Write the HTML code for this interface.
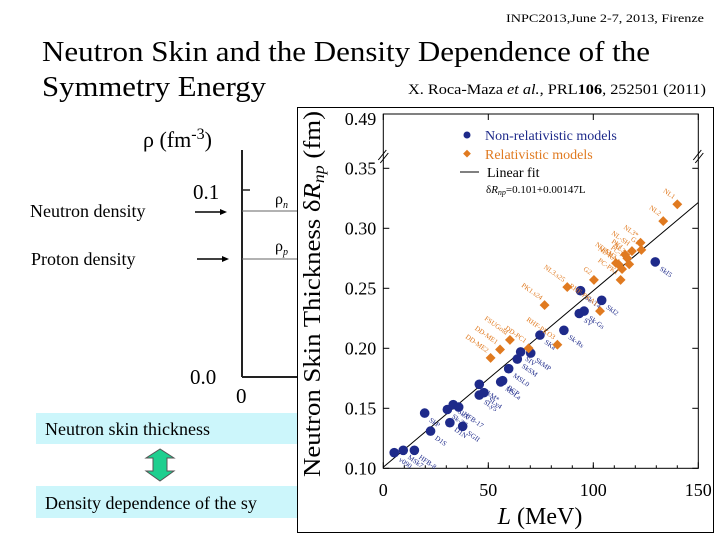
<!DOCTYPE html>
<html><head><meta charset="utf-8"><style>
body{margin:0;background:#fff}
svg{display:block;font-family:"Liberation Serif",serif}
</style></head><body>
<svg id="s" width="720" height="540" viewBox="0 0 720 540">
<text x="704" y="22" font-size="12" text-anchor="end" textLength="198" lengthAdjust="spacingAndGlyphs">INPC2013,June 2-7, 2013, Firenze</text>
<text x="42" y="61" font-size="28" textLength="608" lengthAdjust="spacingAndGlyphs">Neutron Skin and the Density Dependence of the</text>
<text x="42" y="96" font-size="28" textLength="224" lengthAdjust="spacingAndGlyphs">Symmetry Energy</text>
<text x="706" y="94" font-size="15" text-anchor="end" textLength="298" lengthAdjust="spacingAndGlyphs">X. Roca-Maza <tspan font-style="italic">et al.</tspan>, PRL<tspan font-weight="bold">106</tspan>, 252501 (2011)</text>

<g>
<text x="143" y="147" font-size="22">ρ (fm<tspan dy="-8" font-size="16">-3</tspan><tspan dy="8">)</tspan></text>
<line x1="242" y1="150" x2="242" y2="377" stroke="#222" stroke-width="2"/>
<line x1="242" y1="377" x2="298" y2="377" stroke="#222" stroke-width="2"/>
<line x1="242" y1="190" x2="250" y2="190" stroke="#222" stroke-width="1.5"/>
<text x="193" y="199" font-size="21">0.1</text>
<text x="190" y="384" font-size="21">0.0</text>
<text x="236" y="403" font-size="21">0</text>
<line x1="242" y1="211" x2="298" y2="211" stroke="#666" stroke-width="1"/>
<line x1="242" y1="259" x2="298" y2="259" stroke="#666" stroke-width="1"/>
<text x="275" y="204" font-size="16">ρ<tspan font-size="10" dy="4" font-style="italic">n</tspan></text>
<text x="275" y="251" font-size="16">ρ<tspan font-size="10" dy="4" font-style="italic">p</tspan></text>
<text x="30" y="217" font-size="18">Neutron density</text>
<text x="31" y="265" font-size="18">Proton density</text>
<line x1="195" y1="212" x2="220" y2="212" stroke="#000" stroke-width="1.5"/><polygon points="220,209 227,212 220,215" fill="#000"/>
<line x1="197" y1="259" x2="222" y2="259" stroke="#000" stroke-width="1.5"/><polygon points="222,256 229,259 222,262" fill="#000"/>
</g>

<rect x="36" y="413" width="262" height="31" fill="#ccf6fb"/>
<text x="45" y="435" font-size="18">Neutron skin thickness</text>
<rect x="36" y="486" width="262" height="32" fill="#ccf6fb"/>
<text x="45" y="509" font-size="18">Density dependence of the sy</text>
<polygon points="160,449 146,458 153,458 153,471 146,471 160,481 174,471 167,471 167,458 174,458" fill="#1ecf8f" stroke="#555" stroke-width="1"/>

<rect x="297.5" y="107.5" width="416" height="425" fill="#fff" stroke="#000" stroke-width="1"/>
<g id="chart"></g>
</svg>
<script>
const xTicks=[0,50,100,150];
const yTicks=[0.10,0.15,0.20,0.25,0.30,0.35];
const nrL=[5.2,9.5,14.8,19.7,22.5,30.5,31.7,33.3,35.9,37.8,45.7,45.7,47.9,55.9,56.8,59.7,63.8,65.4,70.2,74.6,86,93.3,93.9,95.6,104,129.5];
const nrR=[0.113,0.115,0.115,0.146,0.131,0.149,0.138,0.153,0.151,0.135,0.170,0.161,0.163,0.172,0.173,0.183,0.191,0.197,0.196,0.211,0.215,0.229,0.248,0.231,0.240,0.272];
const nrNames=["v090","MSk7","HFB-8","SkP","D1S","Sk-T6","D1N","SkX","HFB-17","SGII","SkM*","SLy5","SLy4","MSLa","BCP","MSL0","SkSM","SIV","SkMP","SKa","Sk-Rs","SV","Sk-T4","Sk-Gs","SkI2","SkI5"];
const rL=[51.1,55.6,60.3,69.2,76.8,82.9,87.6,100.3,103.2,110.8,112,113.7,113,115.2,116.2,117.1,118.4,122.5,122.9,133.3,140];
const rR=[0.192,0.199,0.207,0.200,0.236,0.203,0.251,0.257,0.231,0.271,0.270,0.266,0.257,0.278,0.275,0.270,0.281,0.288,0.282,0.306,0.320];
const rNames=["DD-ME2","DD-ME1","FSUGold","DD-PC1","PK1.s24","RHF-PKO3","NL3.s25","G2","RHF-PKA1","TM1","NL-SV2","NL-RA1","PC-PK1","PK1","NL3","PC-F1","NL-SH","NL3*","G1","NL2","NL1"];
const fitA=0.101, fitB=0.00147;
const X=v=>383.3+v*2.1;
const Y=v=>468.3-(v-0.10)*1200;
const ns="http://www.w3.org/2000/svg";
const g=document.getElementById('chart');
function mk(t,a,p){const e=document.createElementNS(ns,t);for(const k in a)e.setAttribute(k,a[k]);(p||g).appendChild(e);return e;}
let e=mk('rect',{x:X(0),y:114,width:X(150)-X(0),height:Y(0.10)-114,fill:'none',stroke:'#000','stroke-width':1});


xTicks.forEach(t=>{
 mk('line',{x1:X(t),y1:Y(0.10),x2:X(t),y2:Y(0.10)-6,stroke:'#000'});
 mk('line',{x1:X(t),y1:114,x2:X(t),y2:120,stroke:'#000'});
 const tx=mk('text',{x:X(t),y:496,'font-size':18,'text-anchor':'middle'});tx.textContent=t;
 
 
});
for(let t=10;t<150;t+=10){mk('line',{x1:X(t),y1:Y(0.10),x2:X(t),y2:Y(0.10)-3,stroke:'#000'});}
yTicks.forEach(t=>{
 mk('line',{x1:X(0),y1:Y(t),x2:X(0)+6,y2:Y(t),stroke:'#000'});
 mk('line',{x1:X(150),y1:Y(t),x2:X(150)-6,y2:Y(t),stroke:'#000'});
 const tx=mk('text',{x:X(0)-7,y:Y(t)+6,'font-size':18,'text-anchor':'end'});tx.textContent=t.toFixed(2);
 
 
});
let t49=mk('text',{x:X(0)-7,y:125,'font-size':18,'text-anchor':'end'});t49.textContent='0.49';


[X(0),X(150)].forEach(x=>{mk('line',{x1:x-5,y1:160,x2:x+3,y2:150,stroke:'#000'});mk('line',{x1:x-3,y1:163,x2:x+5,y2:153,stroke:'#000'});});
let fl=mk('line',{x1:X(0),y1:Y(fitA),x2:X(150),y2:Y(fitA+fitB*150),stroke:'#000','stroke-width':1});


nrL.forEach((l,i)=>{
 const c=mk('circle',{cx:X(l),cy:Y(nrR[i]),r:4.8,fill:'#1e2a8a'});
 
 
 const tx=mk('text',{x:X(l)+4,y:Y(nrR[i])+8,'font-size':7,fill:'#1e2a8a',transform:`rotate(35 ${X(l)+4} ${Y(nrR[i])+8})`});tx.textContent=nrNames[i];
 
 
});
rL.forEach((l,i)=>{
 const x=X(l),y=Y(rR[i]);
 const d=mk('rect',{x:x-3.5,y:y-3.5,width:7,height:7,fill:'#e07a20',transform:`rotate(45 ${x} ${y})`});
 
 
 const tx=mk('text',{x:x-4,y:y-5,'font-size':7,fill:'#e07a20','text-anchor':'end',transform:`rotate(35 ${x-4} ${y-5})`});tx.textContent=rNames[i];
 
 
});
let lg=mk('g',{});


mk('circle',{cx:467,cy:135,r:3.5,fill:'#1e2a8a'},lg);
let a=mk('text',{x:485,y:140,'font-size':14,fill:'#1e2a8a'},lg);a.textContent='Non-relativistic models';
mk('rect',{x:464,y:151,width:5.5,height:5.5,fill:'#e07a20',transform:'rotate(45 467 154)'},lg);
a=mk('text',{x:485,y:159,'font-size':14,fill:'#e07a20'},lg);a.textContent='Relativistic models';
mk('line',{x1:460,y1:172,x2:479,y2:172,stroke:'#000'},lg);
a=mk('text',{x:487,y:177,'font-size':14},lg);a.textContent='Linear fit';
a=mk('text',{x:486,y:193,'font-size':11},lg);a.innerHTML='δ<tspan font-style="italic">R</tspan><tspan font-size="8" dy="2" font-style="italic">np</tspan><tspan dy="-2">=0.101+0.00147L</tspan>';
let yt=mk('text',{x:0,y:0,'font-size':24,'text-anchor':'middle',textLength:366,lengthAdjust:'spacingAndGlyphs',transform:'translate(320,294) rotate(-90)'});
yt.innerHTML='Neutron Skin Thickness δ<tspan font-style="italic">R</tspan><tspan font-style="italic" font-size="16" dy="4">np</tspan><tspan dy="-4"> (fm)</tspan>';


let xt=mk('text',{x:540,y:524,'font-size':24,'text-anchor':'middle'});
xt.innerHTML='<tspan font-style="italic">L</tspan> (MeV)';


</script>
</body></html>
